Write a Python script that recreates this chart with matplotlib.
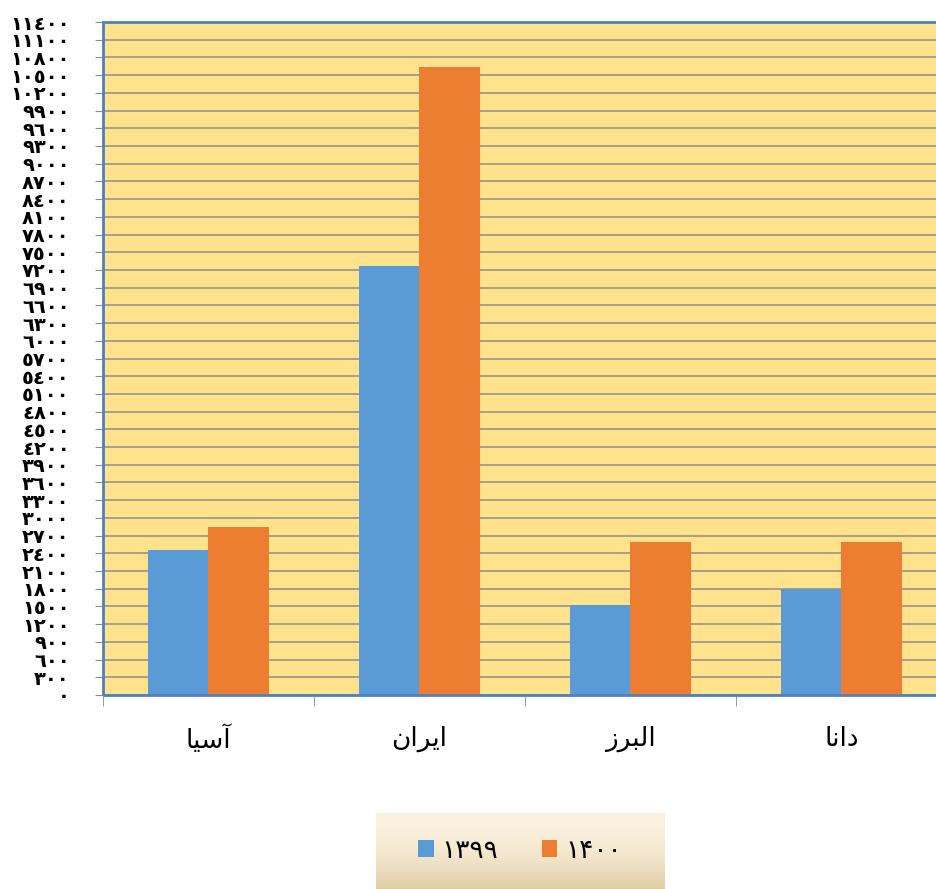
import numpy as np
import matplotlib.pyplot as plt
from matplotlib.patches import Rectangle

plt.rcParams['font.family'] = ['DejaVu Sans']

# داده‌ها
categories = ['آسیا', 'ایران', 'البرز', 'دانا']
series_names = ['۱۳۹۹', '۱۴۰۰']
values_1399 = [2450, 7270, 1530, 1800]
values_1400 = [2840, 10640, 2600, 2600]
y_ticks = list(range(0, 11401, 300))

# matplotlib متن عربی/فارسی را شکل‌دهی نمی‌کند؛ فرم‌های نمایشی را دستی می‌سازیم
FORMS = {
    'ا': ('\uFE8D', '\uFE8E', None, None),
    'آ': ('\uFE81', '\uFE82', None, None),
    'س': ('\uFEB1', '\uFEB2', '\uFEB3', '\uFEB4'),
    'ی': ('\uFBFC', '\uFBFD', '\uFBFE', '\uFBFF'),
    'ر': ('\uFEAD', '\uFEAE', None, None),
    'ن': ('\uFEE5', '\uFEE6', '\uFEE7', '\uFEE8'),
    'ل': ('\uFEDD', '\uFEDE', '\uFEDF', '\uFEE0'),
    'ب': ('\uFE8F', '\uFE90', '\uFE91', '\uFE92'),
    'ز': ('\uFEAF', '\uFEB0', None, None),
    'د': ('\uFEA9', '\uFEAA', None, None),
}


def shape(word):
    out = []
    for i, ch in enumerate(word):
        f = FORMS[ch]
        prev_join = i > 0 and FORMS[word[i - 1]][2] is not None
        next_join = i < len(word) - 1 and f[2] is not None
        if prev_join and next_join:
            out.append(f[3])
        elif prev_join:
            out.append(f[1])
        elif next_join:
            out.append(f[2])
        else:
            out.append(f[0])
    return ''.join(reversed(out))


def arabic_digits(n):
    return str(n).translate(str.maketrans('0123456789', '٠١٢٣٤٥٦٧٨٩'))


fig = plt.figure(figsize=(9.37, 8.89), dpi=100)
# ناحیه رسم از لبه راست تصویر بیرون می‌زند (مثل مرجع)
ax = fig.add_axes([103 / 937, 1 - 695 / 889, 844 / 937, 673 / 889])
ax.set_facecolor('#FFE28C')

x = np.arange(len(categories))
w = 0.285
ax.bar(x - w / 2, values_1399, w, color='#5B9BD5', label=series_names[0], zorder=3)
ax.bar(x + w / 2, values_1400, w, color='#ED7D31', label=series_names[1], zorder=3)

ax.set_xlim(-0.5, 3.5)
ax.set_ylim(0, 11400)

ax.set_yticks(y_ticks)
ax.set_yticklabels([arabic_digits(v) for v in y_ticks], fontsize=14,
                   fontweight='bold')
ax.tick_params(axis='y', length=6, color='#8c8c8c', pad=18)
ax.grid(axis='y', color='#8c8c8c', linewidth=1.1, zorder=1)

ax.set_xticks(x)
ax.set_xticklabels([shape(c) for c in categories], fontsize=19)
ax.tick_params(axis='x', length=0, pad=22)
ax.set_xticks(np.arange(-0.5, 3.5, 1), minor=True)
ax.tick_params(axis='x', which='minor', length=8, color='#8c8c8c')

for side in ['top', 'right']:
    ax.spines[side].set_visible(False)
for side in ['left', 'bottom']:
    ax.spines[side].set_color('#8c8c8c')

# قاب آبی ناحیه رسم
ax.add_patch(Rectangle((0, 0), 1, 1, transform=ax.transAxes, fill=False,
                       edgecolor='#4F81BD', linewidth=2, zorder=4, clip_on=False))

# کادر راهنما با پس‌زمینه گرادیانی
lax = fig.add_axes([376 / 937, 0, 288 / 937, 76 / 889])
top = np.array([251, 241, 222]) / 255
bot = np.array([222, 204, 165]) / 255
t = np.linspace(0, 1, 100) ** 2
grad = top[None, :] * (1 - t[:, None]) + bot[None, :] * t[:, None]
lax.imshow(grad[:, None, :], aspect='auto', extent=[0, 1, 0, 1])
lax.set_axis_off()
handles, labels = ax.get_legend_handles_labels()
lax.legend(handles, labels, loc='center', ncol=2, frameon=False, fontsize=19,
           handlelength=0.58, handleheight=0.58, handletextpad=0.3,
           columnspacing=1.65)

plt.savefig('out.png', dpi=100)
